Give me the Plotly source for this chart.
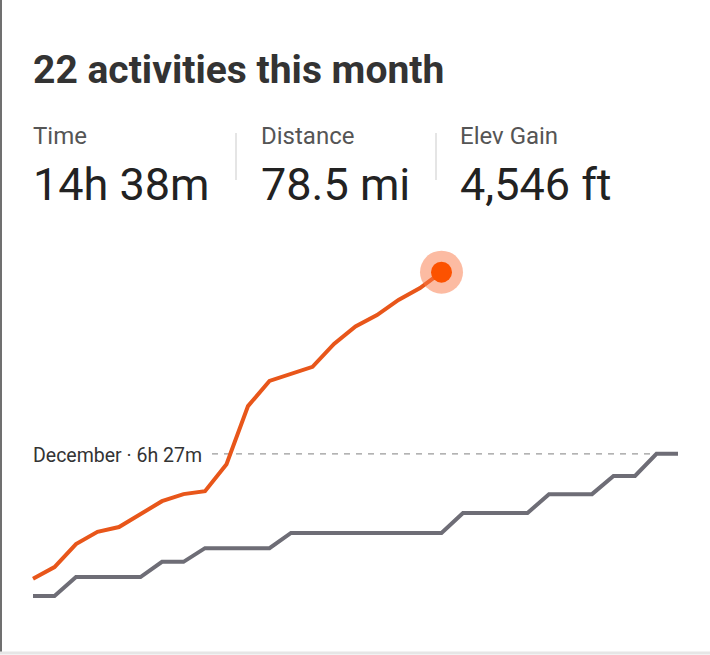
import plotly.graph_objects as go

W, H = 710, 655

# cumulative moving time in minutes, one value per day
days = list(range(1, 32))
this_month_days = list(range(1, 21))
this_month_min = [49, 81, 143, 176, 189, 224, 259, 278, 286, 359,
                  516, 584, 603, 622, 684, 731, 762, 803, 835, 878]
last_month_min = [3, 3, 54, 54, 54, 54, 95, 95, 132, 132,
                  132, 132, 173, 173, 173, 173, 173, 173, 173, 173,
                  227, 227, 227, 227, 278, 278, 278, 327, 327, 387, 387]
last_month_total = 387

title_text = "22 activities this month"
stat_labels = ["Time", "Distance", "Elev Gain"]
stat_values = ["14h 38m", "78.5 mi", "4,546 ft"]
ref_label = "December · 6h 27m"

ORANGE = "#e8561a"
DOT = "#fc5200"
GREY = "#6e6d76"

# pixel geometry of the plotting area
x_px0, x_step = 33, 21.5          # day 1 at 33px, one day = 21.5px
y_px0, y_scale = 597, 0.37        # 0 min at 597px, 0.37px per minute
xr = [0.5, 31.5]
yr = [-50, 1000]
def px_x(d):
    return x_px0 + (d - 1) * x_step
def px_y(v):
    return y_px0 - v * y_scale

fig = go.Figure()
fig.add_trace(go.Scatter(x=days, y=last_month_min, mode="lines",
                         line=dict(color=GREY, width=4), hoverinfo="skip"))
fig.add_trace(go.Scatter(x=this_month_days, y=this_month_min, mode="lines",
                         line=dict(color=ORANGE, width=4), hoverinfo="skip"))
fig.add_trace(go.Scatter(x=this_month_days[-1:], y=this_month_min[-1:], mode="markers",
                         marker=dict(size=43, color="rgba(250,120,70,0.5)"),
                         cliponaxis=False, hoverinfo="skip"))
fig.add_trace(go.Scatter(x=this_month_days[-1:], y=this_month_min[-1:], mode="markers",
                         marker=dict(size=21, color=DOT),
                         cliponaxis=False, hoverinfo="skip"))

font = "Roboto, Arial, sans-serif"
ann = []
ann.append(dict(text="<b>" + title_text + "</b>", x=31 / W, y=1 - 70 / H,
                font=dict(family=font, size=39, color="#333333")))
stat_x = [31, 259, 458]
for lab, val, sx in zip(stat_labels, stat_values, stat_x):
    ann.append(dict(text=lab, x=sx / W, y=1 - 135.5 / H,
                    font=dict(family=font, size=24, color="#555555")))
    ann.append(dict(text=val, x=sx / W, y=1 - 184 / H,
                    font=dict(family=font, size=45, color="#222222")))
ann.append(dict(text=ref_label, x=31 / W, y=1 - 455 / H,
                font=dict(family=font, size=19.5, color="#333333")))
for a in ann:
    a.update(xref="paper", yref="paper", xanchor="left", yanchor="middle",
             showarrow=False)

shapes = [
    # card edges
    dict(type="line", xref="paper", yref="paper", x0=1 / W, x1=1 / W, y0=1 - 652 / H, y1=1,
         line=dict(color="#707070", width=2)),
    dict(type="line", xref="paper", yref="paper", x0=0, x1=1, y0=1 - 653 / H, y1=1 - 653 / H,
         line=dict(color="#e6e6e6", width=3)),
    # dashed reference line for last month
    dict(type="line", xref="x", yref="y", x0=1 + (212 - x_px0) / x_step, x1=31,
         y0=last_month_total, y1=last_month_total,
         line=dict(color="#9a9a9a", width=1.2, dash="6px,6px"), layer="below"),
]
for sx in [236, 436]:
    shapes.append(dict(type="line", xref="paper", yref="paper", x0=sx / W, x1=sx / W,
                       y0=1 - 133 / H, y1=1 - 180 / H, line=dict(color="#dddddd", width=1.5)))

fig.update_layout(
    width=W, height=H, margin=dict(l=0, r=0, t=0, b=0),
    paper_bgcolor="white", plot_bgcolor="white", showlegend=False,
    annotations=ann, shapes=shapes,
    xaxis=dict(range=xr, domain=[px_x(xr[0]) / W, px_x(xr[1]) / W], visible=False, fixedrange=True),
    yaxis=dict(range=yr, domain=[1 - px_y(yr[0]) / H, 1 - px_y(yr[1]) / H], visible=False, fixedrange=True),
)
fig.write_html("out.html", config={"displayModeBar": False},
               post_script="document.body.style.margin='0';")
